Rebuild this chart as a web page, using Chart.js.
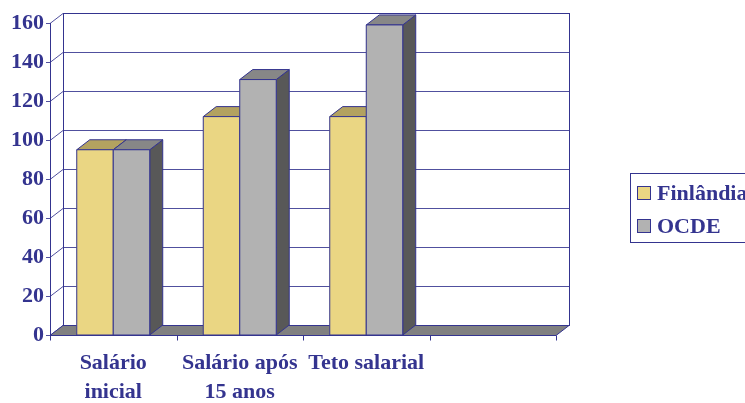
<!DOCTYPE html>
<html>
<head>
<meta charset="utf-8">
<script src="https://cdn.jsdelivr.net/npm/chart.js@4.4.0/dist/chart.umd.min.js"></script>
<style>
  html, body { margin:0; padding:0; background:#fff; }
  #wrap { width:745px; height:403px; }
</style>
</head>
<body>
<div id="wrap"><canvas id="c" width="745" height="403"></canvas></div>
<script>
// --- data ---
const categories = [['Salário','inicial'], ['Salário após','15 anos'], 'Teto salarial', ''];
const finlandia = [95, 112, 112, null];
const ocde      = [95, 131, 159, null];
const yTicks    = [0, 20, 40, 60, 80, 100, 120, 140, 160];

const NAVY = '#34348f';
const FONT = "bold 22px 'Liberation Serif', 'Times New Roman', serif";
const DX = 13, DY = 10;   // depth offset of the 3D box
const face = {
  fin:  { front:'#ead683', top:'#b3a260', side:'#7d7040' },
  ocde: { front:'#b2b2b2', top:'#878787', side:'#585858' }
};

// back wall, side wall, floor, 3D bars, legend
const box3d = {
  id:'box3d',
  beforeDatasetsDraw(chart) {
    const {ctx, chartArea:a, scales:{y}} = chart;
    ctx.save();
    ctx.lineWidth = 1;
    // back wall
    ctx.fillStyle = '#fff';
    ctx.fillRect(a.left+DX, a.top-DY, a.right-a.left, a.bottom-a.top);
    ctx.strokeStyle = '#50509e';
    yTicks.forEach(v => {
      const py = Math.round(y.getPixelForValue(v)) + 0.5;
      ctx.beginPath();
      ctx.moveTo(a.left+DX, py-DY); ctx.lineTo(a.right+DX, py-DY);
      ctx.moveTo(a.left, py); ctx.lineTo(a.left+DX, py-DY);
      ctx.moveTo(a.left-4, py); ctx.lineTo(a.left, py);
      ctx.stroke();
    });
    ctx.strokeStyle = NAVY;
    ctx.strokeRect(a.left+DX+0.5, a.top-DY+0.5, a.right-a.left, a.bottom-a.top);
    // floor slab
    const b = Math.round(a.bottom)+0.5;
    ctx.fillStyle = '#808080';
    ctx.beginPath();
    ctx.moveTo(a.left, b); ctx.lineTo(a.right, b);
    ctx.lineTo(a.right+DX, b-DY); ctx.lineTo(a.left+DX, b-DY);
    ctx.closePath(); ctx.fill(); ctx.stroke();
    // front axis
    ctx.beginPath();
    ctx.moveTo(a.left+0.5, a.top); ctx.lineTo(a.left+0.5, a.bottom+1);
    ctx.stroke();
    // category ticks under the floor
    const n = chart.data.labels.length, w = (a.right-a.left)/n;
    for (let i=0;i<=n;i++) {
      const px = Math.round(a.left + i*w)+0.5;
      ctx.beginPath(); ctx.moveTo(px, b); ctx.lineTo(px, b+5); ctx.stroke();
    }
    ctx.restore();
  },
  afterDatasetsDraw(chart) {
    const {ctx} = chart;
    const metas = [chart.getDatasetMeta(0), chart.getDatasetMeta(1)];
    const cols = [face.fin, face.ocde];
    ctx.save();
    ctx.strokeStyle = NAVY; ctx.lineWidth = 1;
    for (let i=0;i<chart.data.labels.length;i++) {
      metas.forEach((m, k) => {
        const el = m.data[i];
        if (!el || chart.data.datasets[k].data[i] == null) return;
        const l = el.x - el.width/2, r = el.x + el.width/2, t = el.y, bs = el.base;
        const c = cols[k];
        const poly = (pts, fill) => {
          ctx.beginPath(); ctx.moveTo(pts[0][0], pts[0][1]);
          pts.slice(1).forEach(p => ctx.lineTo(p[0], p[1]));
          ctx.closePath(); ctx.fillStyle = fill; ctx.fill(); ctx.stroke();
        };
        poly([[r,t],[r+DX,t-DY],[r+DX,bs-DY],[r,bs]], c.side);
        poly([[l,t],[r,t],[r+DX,t-DY],[l+DX,t-DY]], c.top);
        poly([[l,t],[r,t],[r,bs],[l,bs]], c.front);
      });
    }
    ctx.restore();
  },
  afterDraw(chart) {
    const {ctx} = chart;
    ctx.save();
    ctx.fillStyle = '#fff'; ctx.strokeStyle = NAVY; ctx.lineWidth = 1;
    ctx.fillRect(630.5, 173.5, 120, 69);
    ctx.strokeRect(630.5, 173.5, 120, 69);
    ctx.font = FONT; ctx.textBaseline = 'alphabetic';
    chart.data.datasets.forEach((ds, i) => {
      const yy = 186 + i*33;
      ctx.fillStyle = ds.backgroundColor;
      ctx.fillRect(637.5, yy+0.5, 13, 13);
      ctx.strokeRect(637.5, yy+0.5, 13, 13);
      ctx.fillStyle = NAVY;
      ctx.fillText(ds.label, 657, yy+14);
    });
    ctx.restore();
  }
};

new Chart(document.getElementById('c'), {
  type:'bar',
  data:{
    labels:categories,
    datasets:[
      { label:'Finlândia', data:finlandia, backgroundColor:face.fin.front, borderWidth:0 },
      { label:'OCDE', data:ocde, backgroundColor:face.ocde.front, borderWidth:0 }
    ]
  },
  options:{
    responsive:false,
    animation:false,
    events:[],
    categoryPercentage:0.577,
    barPercentage:1.0,
    layout:{ padding:{ top:23, right:189, left:0, bottom:0 } },
    plugins:{ legend:{display:false}, tooltip:{enabled:false} },
    scales:{
      x:{
        grid:{display:false, drawTicks:false},
        border:{display:false},
        ticks:{ color:NAVY, font:{family:"'Liberation Serif', serif", size:22, weight:'bold', lineHeight:1.3}, padding:14, maxRotation:0, autoSkip:false },
        afterFit(s){ s.height = 68; }
      },
      y:{
        min:0, max:160,
        grid:{display:false, drawTicks:false},
        border:{display:false},
        ticks:{ stepSize:20, color:NAVY, font:{family:"'Liberation Serif', serif", size:22, weight:'bold'}, padding:6 },
        afterFit(s){ s.width = 50; }
      }
    }
  },
  plugins:[box3d]
});
</script>
</body>
</html>
